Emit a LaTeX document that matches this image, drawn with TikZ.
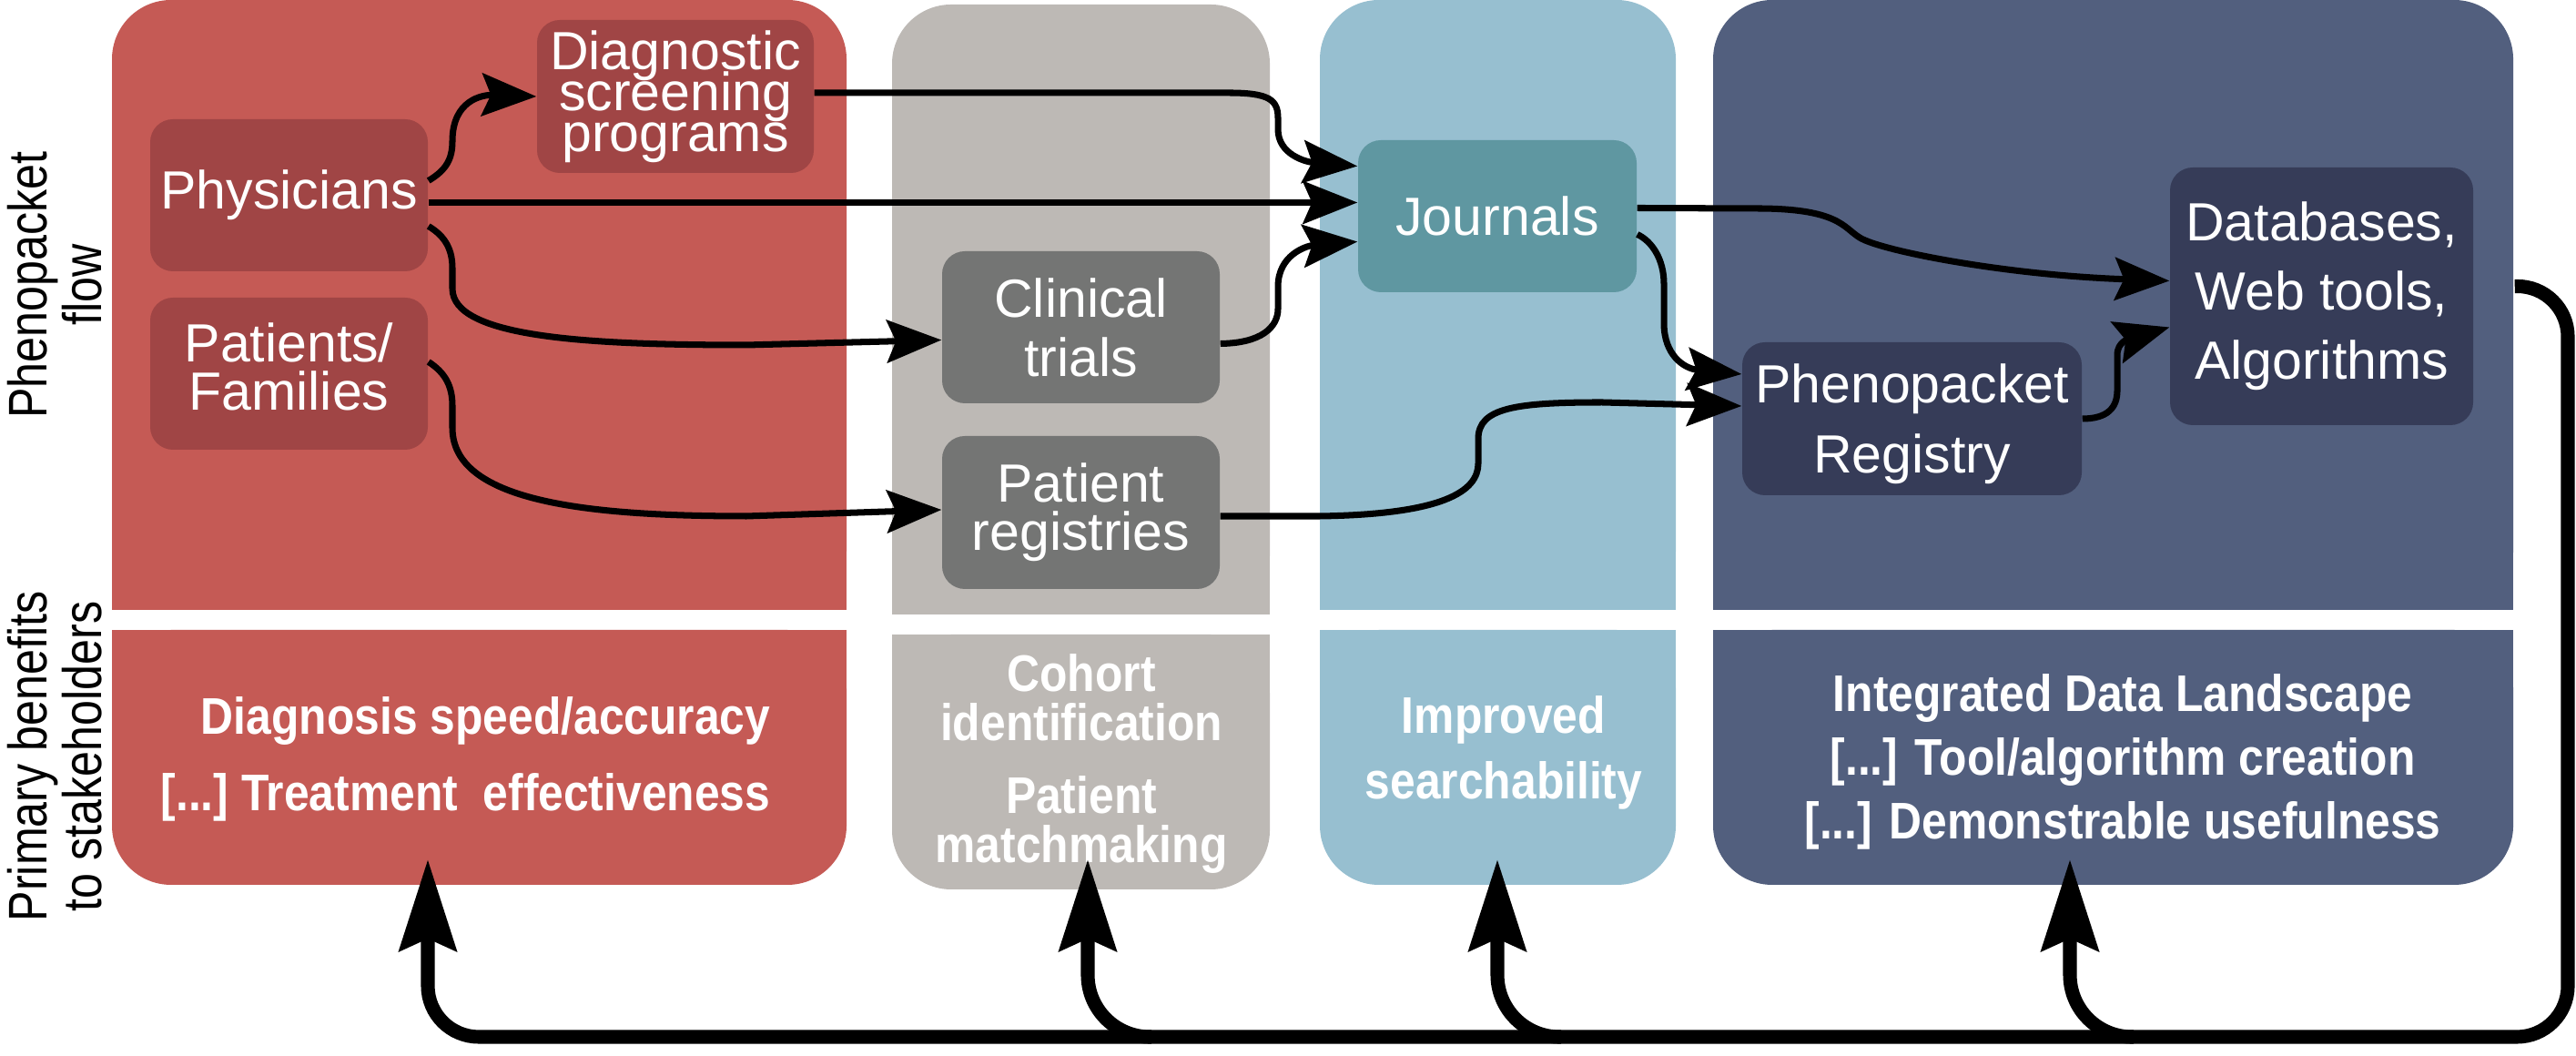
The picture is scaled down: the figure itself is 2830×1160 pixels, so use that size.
\documentclass[tikz,border=0pt]{standalone}
\usepackage{fontspec}
\setmainfont{Liberation Sans}
\newfontfamily\benefitfont{Liberation Sans}[FakeStretch=0.88]
\newfontfamily\sidefont{Liberation Sans}[FakeStretch=0.84]
\usetikzlibrary{calc,arrows.meta}

\definecolor{redpanel}{HTML}{C55A55}
\definecolor{rednode}{HTML}{A04545}
\definecolor{graypanel}{HTML}{BDB9B5}
\definecolor{graynode}{HTML}{747574}
\definecolor{bluepanel}{HTML}{97BFD0}
\definecolor{bluenode}{HTML}{5F97A1}
\definecolor{darkpanel}{HTML}{525F7E}
\definecolor{darknode}{HTML}{363C58}

\newcommand\stagefont[1]{\fontsize{16.8pt}{#1}\selectfont\lineskiplimit=-20pt}
\newcommand\gainfont[1]{\benefitfont\bfseries\fontsize{16.1pt}{#1}\selectfont\lineskiplimit=-20pt}

\tikzset{
	stage/.style={rounded corners=2.5mm, inner sep=0pt, text=white, align=center},
	gain/.style={text=white, inner sep=0pt, align=center},
	side/.style={rotate=90, inner sep=0pt, align=center, font={\sidefont\fontsize{17pt}{17pt}\selectfont}},
	flow/.style={line width=2pt, -{Stealth[length=6mm,width=4.7mm,inset=1mm]}},
	feedback/.style={line width=4.3pt, rounded corners=6.8mm, -{Stealth[length=10mm,width=6.2mm,inset=1.3mm]}}
}

\begin{document}
\begin{tikzpicture}[x=0.1mm, y=0.1mm]
		\useasboundingbox (0,0) rectangle (2830,1160);
		%%%%% PANELS %%%%%
		\foreach \xa/\xb/\dy/\col in {123/930/0/redpanel, 980/1395/-5/graypanel, 1450/1841/0/bluepanel, 1882/2761/0/darkpanel}{
			\fill[\col, rounded corners=6.5mm] ({\xa},{490+\dy}) rectangle ({\xb},{1160+\dy});
			\fill[\col] ({\xa},{490+\dy}) rectangle ({\xb},{900+\dy});
			\fill[\col, rounded corners=6.5mm] ({\xa},{188+\dy}) rectangle ({\xb},{468+\dy});
			\fill[\col] ({\xa},{300+\dy}) rectangle ({\xb},{468+\dy});
		}
		
		%%%%% ROW LABELS %%%%%
		\node[side] (flowLabel) at (60,847) {Phenopacket\\flow};
		\node[side] (gainLabel) at (60,329) {Primary benefits\\to stakeholders};
		
		%%%%% STAGES %%%%%
		\node[stage, fill=rednode, minimum width=30.5mm, minimum height=16.7mm, font=\stagefont{15pt}] (phys) at (317.5,945.5) {Physicians};
		\node[stage, fill=rednode, minimum width=30.5mm, minimum height=16.7mm, text depth=1.6mm, font=\stagefont{15.1pt}] (fam) at (317.5,749.5) {Patients/\\Families};
		\node[stage, fill=rednode, minimum width=30.4mm, minimum height=16.8mm, font=\stagefont{12.8pt}] (dsp) at (742,1054) {Diagnostic\\screening\\programs};
		\node[stage, fill=graynode, minimum width=30.5mm, minimum height=16.7mm, font=\stagefont{18.5pt}] (ct) at (1187.5,800.5) {Clinical\\trials};
		\node[stage, fill=graynode, minimum width=30.5mm, minimum height=16.8mm, font=\stagefont{15pt}] (preg) at (1187.5,597) {Patient\\registries};
		\node[stage, fill=bluenode, minimum width=30.6mm, minimum height=16.7mm, font=\stagefont{15pt}] (jour) at (1645,922.5) {Journals};
		\node[stage, fill=darknode, minimum width=37.3mm, minimum height=16.8mm, text depth=0mm, font=\stagefont{21.9pt}] (ppr) at (2100.5,700) {Phenopacket\\Registry};
		\node[stage, fill=darknode, minimum width=33.3mm, minimum height=28.3mm, font=\stagefont{21.6pt}] (db) at (2550.5,834.5) {Databases,\\Web tools,\\Algorithms};
		
		%%%%% BENEFITS %%%%%
		\node[gain, align=right, anchor=east, font=\gainfont{24pt}] (gainRed) at (847,326) {Diagnosis speed/accuracy\\{[...]}~Treatment~~effectiveness};
		\node[gain, font=\gainfont{15.4pt}] (gainGray) at (1188,321) {Cohort\\identification\\[7.5pt]Patient\\matchmaking};
		\node[gain, font=\gainfont{20.5pt}] (gainBlue) at (1652,333) {Improved\\searchability};
		\node[gain, font=\gainfont{19.9pt}] (gainDark) at (2332,323) {Integrated Data Landscape\\{[...]} Tool/algorithm creation\\{[...]} Demonstrable usefulness};
		
		%%%%% FLOW %%%%%
		\draw[flow] ($(phys.east)+(0,16)$) .. controls (490,973) and (497,985) .. (497,1005) .. controls (497,1050) and (530,1056) .. (dsp.west);
		\draw[flow] ($(phys.east)+(0,-8)$) -- ($(jour.west)+(0,15)$);
		\draw[flow] ($(phys.east)+(0,-34)$) .. controls (490,900) and (497,885) .. (497,865) -- (497,843) .. controls (497,790) and (640,781) .. (820,781) -- ($(ct.west)+(0,-14)$);
		\draw[flow] ($(fam.east)+(0,13)$) .. controls (490,750) and (497,735) .. (497,714) -- (497,690) .. controls (497,610) and (640,593) .. (820,593) -- ($(preg.west)+(0,3)$);
		\draw[flow] ($(dsp.east)+(0,4)$) -- (1350,1058) .. controls (1395,1058) and (1404,1050) .. (1404,1030) -- (1404,1018) .. controls (1404,990) and (1435,982) .. ($(jour.west)+(0,55)$);
		\draw[flow] ($(ct.east)+(0,-18)$) .. controls (1385,783) and (1404,800) .. (1404,821) -- (1404,845) .. controls (1404,880) and (1435,890) .. ($(jour.west)+(0,-28)$);
		\draw[flow] ($(preg.east)+(0,-4)$) -- (1450,593) .. controls (1585,595) and (1624,620) .. (1624,651) -- (1624,678) .. controls (1624,712) and (1665,718) .. (1760,718) -- ($(ppr.west)+(0,14)$);
		\draw[flow] ($(jour.east)+(0,-20)$) .. controls (1815,895) and (1828,875) .. (1828,848) -- (1828,805) .. controls (1828,770) and (1850,755) .. ($(ppr.west)+(0,49)$);
		\draw[flow] ($(jour.east)+(0,9)$) -- (1930,931) .. controls (2020,931) and (2025,910) .. (2043,899) .. controls (2065,885) and (2200,858) .. ($(db.west)+(0,17)$);
		\draw[flow] (ppr.east) .. controls (2315,700) and (2326,712) .. (2326,731) -- (2326,770) .. controls (2326,785) and (2340,788) .. ($(db.west)+(0,-34)$);
		
		%%%%% FEEDBACK %%%%%
		\coordinate (loopStart) at ($(db.east)+(45,11)$);
		\coordinate (fbRed) at (470,216);
		\coordinate (fbGray) at (1195,216);
		\coordinate (fbBlue) at (1645,216);
		\coordinate (fbDark) at (2274,216);
		\draw[feedback, rounded corners=5.6mm] (loopStart) -- (2821,846) -- (2821,21) -- (470,21) -- (fbRed);
		\foreach \tgt in {fbGray,fbBlue,fbDark}
			\draw[feedback] ($(\tgt)+(70,-195)$) -| (\tgt);
\end{tikzpicture}
\end{document}
